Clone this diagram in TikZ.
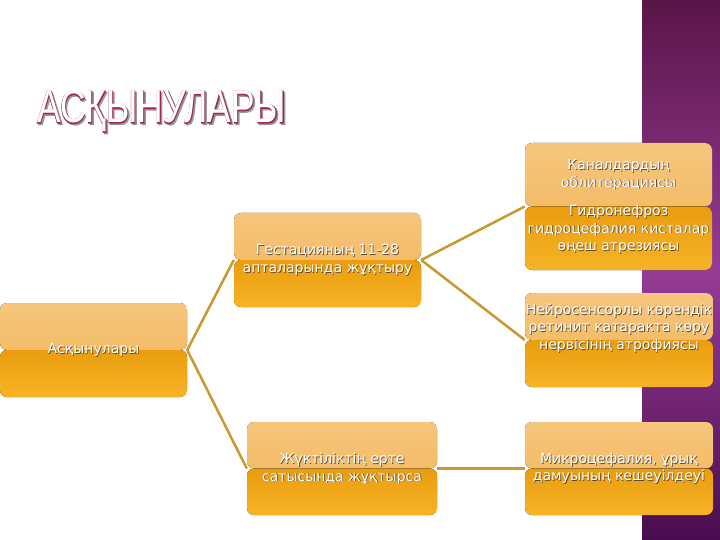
\documentclass[tikz,border=0pt]{standalone}
\usepackage{fontspec}
\setmainfont{DejaVu Sans}
\newfontfamily\titlefont{Liberation Sans}
\newfontfamily\titlebold[FakeBold=3]{Liberation Sans}
\definecolor{boxtopA}{HTML}{F6C67E}
\definecolor{boxtopB}{HTML}{F1B250}
\definecolor{boxlowA}{HTML}{E99D0E}
\definecolor{boxlowB}{HTML}{F6B326}
\definecolor{linkc}{HTML}{C9982F}
\definecolor{purpA}{HTML}{5A1548}
\definecolor{purpB}{HTML}{963C96}
\definecolor{purpC}{HTML}{4A0C4E}
\definecolor{titlec}{HTML}{A0284E}
\definecolor{shadowc}{HTML}{5E4A36}
% name, box, vertical shift, text
\newcommand{\boxtext}[4]{%
	\node[txt, text=shadowc] (#1s) at ([xshift=0.8pt,yshift={#3-0.8pt}]#2.center) {#4};
	\node[txt] (#1t) at ([yshift={#3}]#2.center) {#4};
}

\begin{document}
\begin{tikzpicture}[x=1pt,y=-1pt,
	glossy/.style={rounded corners=7pt, inner sep=0pt,
		path picture={
			\fill[top color=boxtopA,bottom color=boxtopB] (path picture bounding box.north west) rectangle (path picture bounding box.east);
			\fill[top color=boxlowA,bottom color=boxlowB] (path picture bounding box.west) rectangle (path picture bounding box.south east);
		}},
	txt/.style={text=white, align=center, inner sep=0pt, font=\fontsize{14}{17.5}\selectfont},
	heading/.style={anchor=base west, inner sep=0pt},
	link/.style={draw=linkc, line width=2.5pt}]
					\useasboundingbox (0,0) rectangle (720,540);
					\fill[white] (0,0) rectangle (720,540);
					\shade[top color=purpA, bottom color=purpC, middle color=purpB] (642,0) rectangle (720,540);
					
					% title
					\node[heading, text=black!40] (titles) at (38.5,124.5) {\titlebold\fontsize{46}{46}\selectfont\scalebox{0.77}[1]{АСҚЫНУЛАРЫ}};
					\node[heading, text=titlec] (titleo) at (37,123) {\titlebold\fontsize{46}{46}\selectfont\scalebox{0.77}[1]{АСҚЫНУЛАРЫ}};
					\node[heading, text=white] (title) at (37,123) {\titlefont\fontsize{46}{46}\selectfont\scalebox{0.77}[1]{АСҚЫНУЛАРЫ}};
					
					% boxes
					\node[glossy, minimum width=187pt, minimum height=94pt] (root) at (93.5,350) {};
					\node[glossy, minimum width=187pt, minimum height=94pt] (b1) at (327.5,260) {};
					\node[glossy, minimum width=190pt, minimum height=93pt] (b2) at (342,468.5) {};
					\node[glossy, minimum width=187pt, minimum height=127pt] (c1) at (618.5,206.5) {};
					\node[glossy, minimum width=188pt, minimum height=94pt] (c2) at (619,340) {};
					\node[glossy, minimum width=188pt, minimum height=93pt] (c3) at (619,468.5) {};
					
					% links
					\draw[link] (root.east) -- (b1.west);
					\draw[link] (root.east) -- (b2.west);
					\draw[link] (b1.east) -- (c1.west);
					\draw[link] (b1.east) -- (c2.west);
					\draw[link] (b2.east) -- (c3.west);
					
					% texts
					\boxtext{root}{root}{0pt}{Асқынулары}
					\boxtext{b1}{b1}{0pt}{Гестацияның 11-28\\апталарында жұқтыру}
					\boxtext{b2}{b2}{0pt}{Жүктіліктің ерте\\сатысында жұқтырса}
					\boxtext{c1}{c1}{0pt}{Каналдардың\\облитерациясы\\[11pt]Гидронефроз\\гидроцефалия кисталар\\өңеш атрезиясы}
					\boxtext{c2}{c2}{12pt}{Нейросенсорлы көрендік\\ретинит катаракта көру\\нервісінің атрофиясы}
					\boxtext{c3}{c3}{0pt}{Микроцефалия, ұрық\\дамуының кешеуілдеуі}
					
				\end{tikzpicture}
\end{document}
